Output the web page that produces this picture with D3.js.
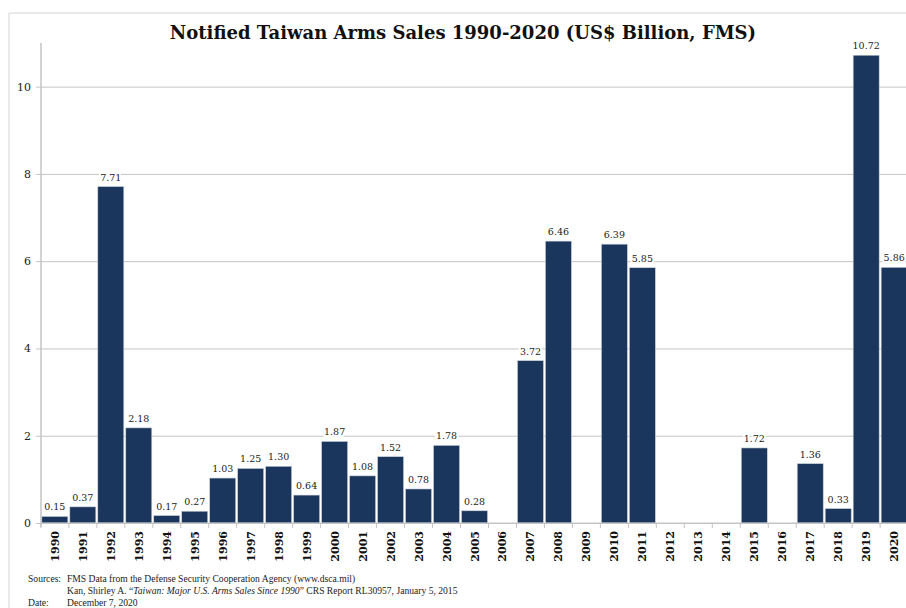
<!DOCTYPE html>
<html>
<head>
<meta charset="utf-8">
<script src="https://cdn.jsdelivr.net/npm/d3@7"></script>
<style>
  body { margin: 0; background: #fff; }
  svg { display: block; }
</style>
</head>
<body>
<div id="chart"></div>
<script>
// data (null = no notification that year)
const years = ["1990","1991","1992","1993","1994","1995","1996","1997","1998","1999",
  "2000","2001","2002","2003","2004","2005","2006","2007","2008","2009",
  "2010","2011","2012","2013","2014","2015","2016","2017","2018","2019","2020"];
const sales = [0.15, 0.37, 7.71, 2.18, 0.17, 0.27, 1.03, 1.25, 1.30, 0.64,
  1.87, 1.08, 1.52, 0.78, 1.78, 0.28, null, 3.72, 6.46, null,
  6.39, 5.85, null, null, null, 1.72, null, 1.36, 0.33, 10.72, 5.86];
const yTicks = [0, 2, 4, 6, 8, 10];

const W = 906, H = 608;
const plot = {left: 41, right: 908, top: 43, bottom: 523};
const serif = "'DejaVu Serif', Georgia, serif";

const svg = d3.select("#chart").append("svg")
  .attr("width", W).attr("height", H);

// light frame around the chart
svg.append("path")
  .attr("d", `M9,${H} V13 H${W}`)
  .attr("fill", "none")
  .attr("stroke", "#d4d4d4");

// scales
const x = d3.scaleBand()
  .domain(years)
  .range([plot.left, plot.right])
  .paddingInner(0.07)
  .paddingOuter(0.03);

const y = d3.scaleLinear()
  .domain([0, 11])
  .range([plot.bottom, plot.top]);

// gridlines + y axis
const yAxis = svg.append("g")
  .attr("transform", `translate(${plot.left},0)`)
  .call(d3.axisLeft(y).tickValues(yTicks).tickSize(-(W - plot.left)).tickSizeOuter(0).tickPadding(10));
yAxis.select(".domain").remove();
yAxis.selectAll(".tick line")
  .attr("stroke", "#c4c4c4")
  .attr("x1", -5);
yAxis.selectAll(".tick text")
  .style("font-family", serif)
  .style("font-size", "11px")
  .attr("fill", "#222");

svg.append("line")
  .attr("x1", plot.left).attr("x2", plot.left)
  .attr("y1", plot.top).attr("y2", plot.bottom + 4)
  .attr("stroke", "#c4c4c4")
  .attr("stroke-width", 1.5);

// bars
const rows = years.map((yr, i) => ({year: yr, value: sales[i]})).filter(d => d.value != null);

svg.append("g")
  .selectAll("rect")
  .data(rows)
  .join("rect")
    .attr("x", d => x(d.year))
    .attr("y", d => y(d.value))
    .attr("width", x.bandwidth())
    .attr("height", d => y(0) - y(d.value))
    .attr("fill", "#1b365d")
    .attr("stroke", "#c9d2de")
    .attr("stroke-width", 0.6);

// value labels (white halo breaks the gridlines like the original)
svg.append("g")
  .selectAll("text")
  .data(rows)
  .join("text")
    .attr("x", d => x(d.year) + x.bandwidth() / 2)
    .attr("y", d => y(d.value) - 6)
    .attr("text-anchor", "middle")
    .style("font-family", serif)
    .style("font-size", "9.5px")
    .attr("fill", "#222")
    .attr("stroke", "#fff")
    .attr("stroke-width", 4)
    .attr("paint-order", "stroke")
    .text(d => d.value.toFixed(2));

// x axis: baseline, ticks between categories, rotated year labels
const step = x.step();
svg.append("line")
  .attr("x1", plot.left).attr("x2", W)
  .attr("y1", plot.bottom).attr("y2", plot.bottom)
  .attr("stroke", "#c4c4c4");

svg.append("g")
  .selectAll("line")
  .data(years)
  .join("line")
    .attr("x1", d => x(d) - step * x.paddingInner() / 2)
    .attr("x2", d => x(d) - step * x.paddingInner() / 2)
    .attr("y1", plot.bottom)
    .attr("y2", plot.bottom + 5)
    .attr("stroke", "#c4c4c4");

svg.append("g")
  .selectAll("text")
  .data(years)
  .join("text")
    .attr("transform", d => `translate(${x(d) + x.bandwidth() / 2 + 4},${plot.bottom + 8}) rotate(-90)`)
    .attr("text-anchor", "end")
    .style("font-family", serif)
    .style("font-size", "11px")
    .style("font-weight", "bold")
    .attr("fill", "#111")
    .text(d => d);

// title
svg.append("text")
  .attr("x", 463)
  .attr("y", 39)
  .attr("text-anchor", "middle")
  .style("font-family", serif)
  .style("font-size", "18px")
  .style("font-weight", "bold")
  .attr("fill", "#111")
  .text("Notified Taiwan Arms Sales 1990-2020 (US$ Billion, FMS)");

// sources footer
const foot = svg.append("g")
  .style("font-family", "'Liberation Serif', 'Times New Roman', serif")
  .style("font-size", "9.6px")
  .attr("fill", "#222");

foot.append("text").attr("x", 28).attr("y", 582).text("Sources:");
foot.append("text").attr("x", 67).attr("y", 582)
  .text("FMS Data from the Defense Security Cooperation Agency (www.dsca.mil)");
const line2 = foot.append("text").attr("x", 67).attr("y", 594);
line2.append("tspan").text("Kan, Shirley A. \u201C");
line2.append("tspan").style("font-style", "italic").text("Taiwan: Major U.S. Arms Sales Since 1990");
line2.append("tspan").text("\u201D CRS Report RL30957, January 5, 2015");
foot.append("text").attr("x", 28).attr("y", 606).text("Date:");
foot.append("text").attr("x", 67).attr("y", 606).text("December 7, 2020");
</script>
</body>
</html>
